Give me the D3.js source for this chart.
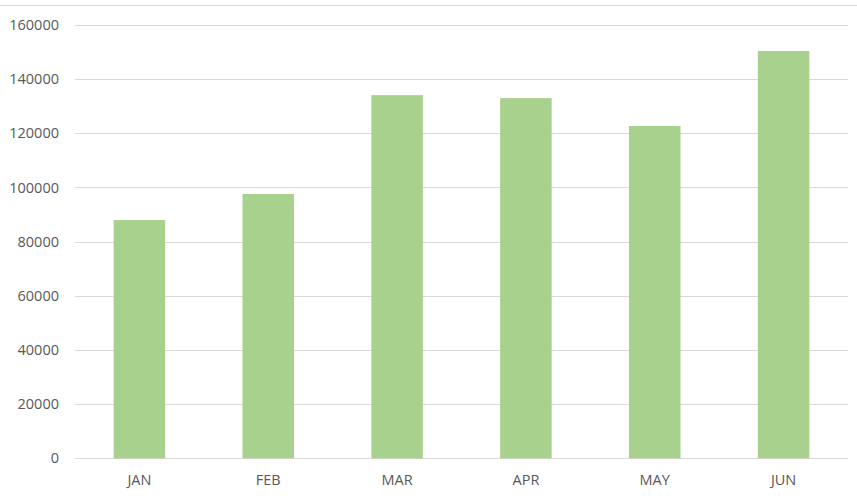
<!DOCTYPE html>
<html>
<head>
<meta charset="utf-8">
<script src="https://cdn.jsdelivr.net/npm/d3@7"></script>
<style>
  html, body { margin: 0; padding: 0; background: #fff; }
  svg { display: block; }
</style>
</head>
<body>
<svg id="chart" width="857" height="496"></svg>
<script>
const categories = ["JAN", "FEB", "MAR", "APR", "MAY", "JUN"];
const values = [88000, 97600, 134100, 133000, 122700, 150400];
const yTicks = [0, 20000, 40000, 60000, 80000, 100000, 120000, 140000, 160000];

(function () {
const svg = d3.select("#chart");
const mLeft = 75, mRight = 848, mTop = 25, mBottom = 458.3;

const x = d3.scaleBand().domain(categories).range([mLeft, mRight]).paddingInner(0.6).paddingOuter(0.3);
const y = d3.scaleLinear().domain([0, 160000]).range([mBottom, mTop]);

// top border
svg.append("line").attr("x1", 0).attr("x2", 857).attr("y1", 5.5).attr("y2", 5.5)
  .attr("stroke", "#d9d9d9").attr("stroke-width", 1);

// gridlines
svg.append("g").selectAll("line").data(yTicks).join("line")
  .attr("x1", mLeft).attr("x2", mRight)
  .attr("y1", d => Math.round(y(d)) + 0.5).attr("y2", d => Math.round(y(d)) + 0.5)
  .attr("stroke", "#d9d9d9").attr("stroke-width", 1);

// y labels
svg.append("g").selectAll("text").data(yTicks).join("text")
  .attr("x", 59).attr("y", d => y(d)).attr("dy", "0.35em")
  .attr("text-anchor", "end")
  .attr("font-family", "'Open Sans', sans-serif").attr("font-size", "14.5px")
  .attr("fill", "#595959").text(d => d);

// bars
svg.append("g").selectAll("rect").data(values).join("rect")
  .attr("x", (d, i) => x(categories[i]))
  .attr("width", x.bandwidth())
  .attr("y", d => y(d))
  .attr("height", d => y(0) - y(d))
  .attr("fill", "#a9d18e");

// x labels
svg.append("g").selectAll("text").data(categories).join("text")
  .attr("x", d => x(d) + x.bandwidth() / 2).attr("y", 480).attr("dy", "0.35em")
  .attr("text-anchor", "middle")
  .attr("font-family", "'Open Sans', sans-serif").attr("font-size", "14.5px")
  .attr("fill", "#595959").text(d => d);
})();
</script>
</body>
</html>
